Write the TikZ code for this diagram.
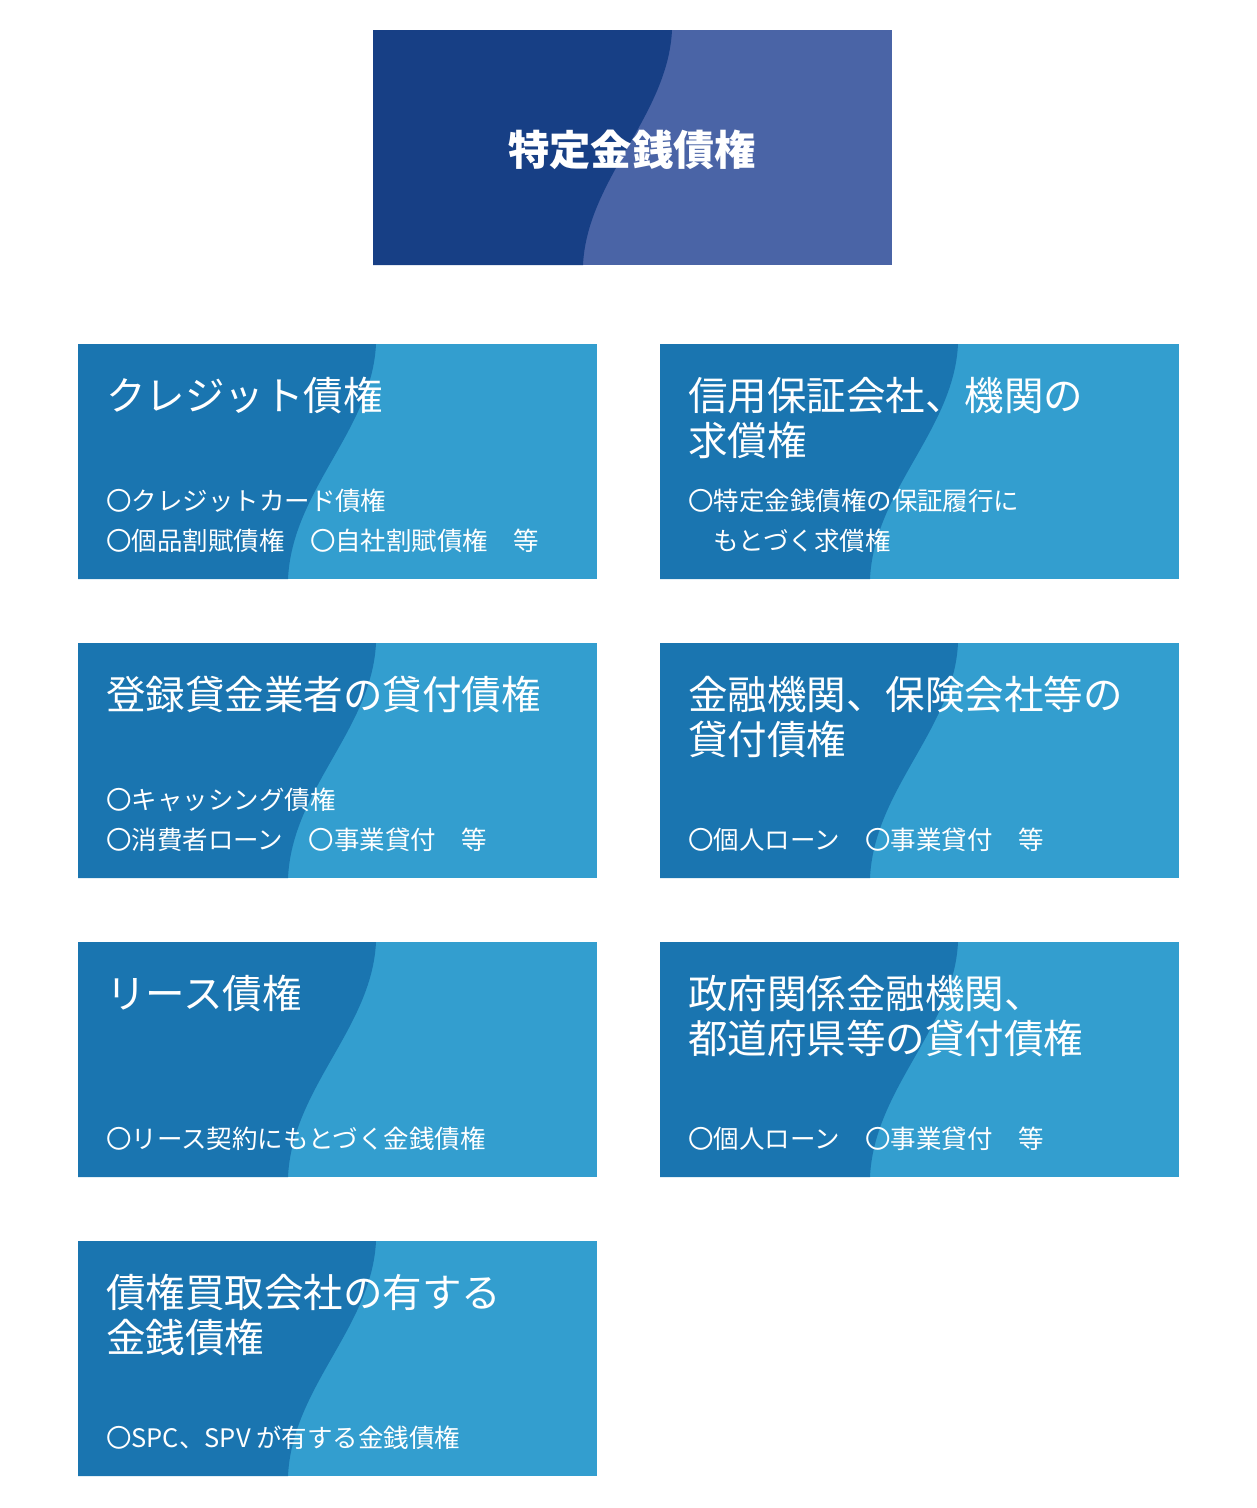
\documentclass[tikz,border=0pt]{standalone}
\usepackage{fontspec}
\newfontfamily\jpfont{Noto Sans CJK JP}
\definecolor{navydark}{HTML}{173F85}
\definecolor{navylight}{HTML}{4A64A6}
\definecolor{bluedark}{HTML}{1A75B0}
\definecolor{bluelight}{HTML}{339ECF}
\tikzset{
  cardhead/.style={anchor=west,text=white,font=\jpfont\fontsize{22.5}{25.5}\selectfont,align=left},
  cardbody/.style={anchor=west,text=white,font=\jpfont\fontsize{14.5}{22.7}\selectfont,align=left},
}
% card at top-left corner (#1,#2)
\newcommand{\card}[2]{%
  \fill[bluelight] (#1,#2) rectangle ++(519,235);
  \fill[bluedark] (#1,#2) -- ++(298,0) .. controls +(-4,86) and +(4,-89) .. ++(-88,235) -- ++(-210,0) -- cycle;
}
\begin{document}
\begin{tikzpicture}[x=0.02cm,y=-0.02cm]
\useasboundingbox (0,0) rectangle (1257,1508);
% top box
\fill[navylight] (373,30) rectangle (892,265);
\fill[navydark] (373,30) -- (672,30) .. controls (668,116) and (587,179) .. (583,265) -- (373,265) -- cycle;
\node[text=white,font=\jpfont\bfseries\fontsize{23.5}{26}\selectfont] (title) at (632,150) {特定金銭債権};
% cards
\card{78}{344}  \card{660}{344}
\card{78}{643}  \card{660}{643}
\card{78}{942}  \card{660}{942}
\card{78}{1241}
\node[cardhead] (credit) at (100,395) {クレジット債権};
\node[cardbody] (creditsub) at (100,521) {〇クレジットカード債権\\〇個品割賦債権\quad 〇自社割賦債権\quad 等};
\node[cardhead] (guarantee) at (682,418) {信用保証会社、機関の\\求償権};
\node[cardbody] (guaranteesub) at (682,521) {〇特定金銭債権の保証履行に\\\quad もとづく求償権};
\node[cardhead] (lender) at (100,694) {登録貸金業者の貸付債権};
\node[cardbody] (lendersub) at (100,820) {〇キャッシング債権\\〇消費者ローン\quad 〇事業貸付\quad 等};
\node[cardhead] (bank) at (682,717) {金融機関、保険会社等の\\貸付債権};
\node[cardbody] (banksub) at (682,840) {〇個人ローン\quad 〇事業貸付\quad 等};
\node[cardhead] (lease) at (100,993) {リース債権};
\node[cardbody] (leasesub) at (100,1139) {〇リース契約にもとづく金銭債権};
\node[cardhead] (public) at (682,1016) {政府関係金融機関、\\都道府県等の貸付債権};
\node[cardbody] (publicsub) at (682,1139) {〇個人ローン\quad 〇事業貸付\quad 等};
\node[cardhead] (buyer) at (100,1315) {債権買取会社の有する\\金銭債権};
\node[cardbody] (buyersub) at (100,1438) {〇SPC、SPV が有する金銭債権};
\end{tikzpicture}
\end{document}
